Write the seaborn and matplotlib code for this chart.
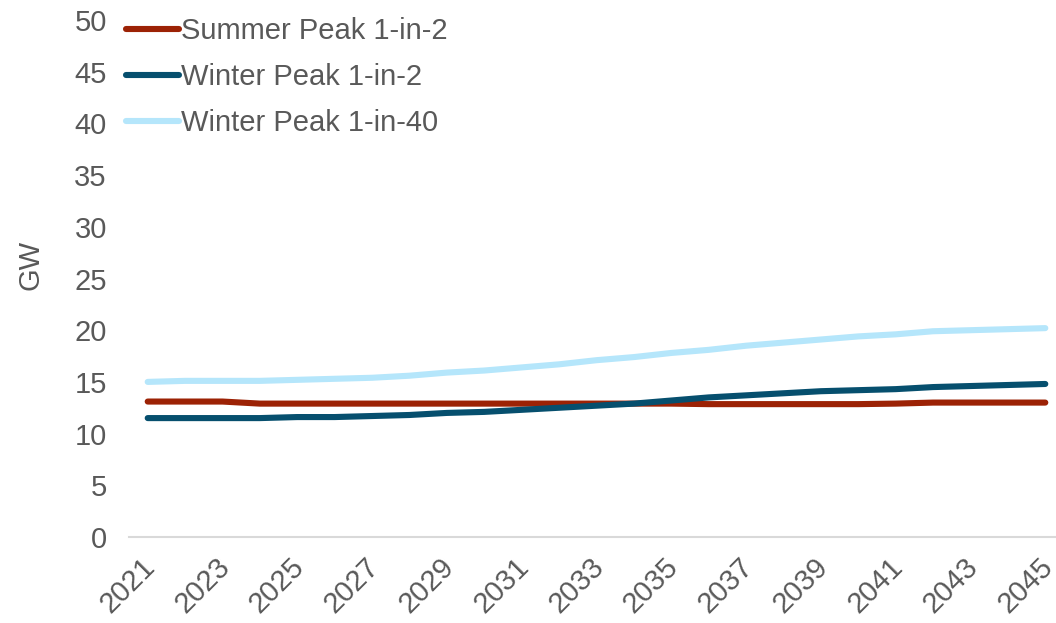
import matplotlib
matplotlib.use("Agg")
import matplotlib.pyplot as plt
import matplotlib.transforms as mtrans
import numpy as np
import pandas as pd
import seaborn as sns

# data (GW)
years = list(range(2021, 2046))
summer_1in2 = [13.1, 13.1, 13.1, 12.9, 12.9, 12.9, 12.9, 12.9, 12.9, 12.9,
               12.9, 12.9, 12.9, 12.9, 12.9, 12.85, 12.85, 12.85, 12.85, 12.85,
               12.9, 13.0, 13.0, 13.0, 13.0]
winter_1in2 = [11.5, 11.5, 11.5, 11.5, 11.6, 11.6, 11.7, 11.8, 12.0, 12.1,
               12.3, 12.5, 12.7, 12.9, 13.2, 13.5, 13.7, 13.9, 14.1, 14.2,
               14.3, 14.5, 14.6, 14.7, 14.8]
winter_1in40 = [15.0, 15.1, 15.1, 15.1, 15.2, 15.3, 15.4, 15.6, 15.9, 16.1,
                16.4, 16.7, 17.1, 17.4, 17.8, 18.1, 18.5, 18.8, 19.1, 19.4,
                19.6, 19.9, 20.0, 20.1, 20.2]
series_names = ["Summer Peak 1-in-2", "Winter Peak 1-in-2", "Winter Peak 1-in-40"]
colors = ["#9C2205", "#064F6E", "#B5E6FB"]

df = pd.DataFrame({
    "year": years * 3,
    "GW": summer_1in2 + winter_1in2 + winter_1in40,
    "series": np.repeat(series_names, len(years)),
})

sns.set_style("white")
plt.rcParams["font.family"] = ["Liberation Sans", "DejaVu Sans"]
grey = "#595959"
fs = 21
lw = 4.4

fig = plt.figure(figsize=(10.56, 6.23), dpi=100)
W, H = 1056, 623
ax = fig.add_axes([129 / W, (H - 537) / H, (1064 - 129) / W, (537 - 20) / H])

sns.lineplot(data=df, x="year", y="GW", hue="series", hue_order=series_names,
             palette=colors, linewidth=lw, ax=ax, legend=True)
for ln in ax.lines:
    ln.set_solid_capstyle("round")

ax.set_xlim(2020.5, 2045.5)
ax.set_ylim(0, 50)
ax.set_yticks(np.arange(0, 51, 5))
ax.set_xticks(years[::2])
ax.set_xticklabels([str(y) for y in years[::2]], rotation=45, ha="right",
                   rotation_mode="anchor")
ax.tick_params(axis="both", length=0, labelsize=fs, colors=grey)
ax.tick_params(axis="x", pad=11)
ax.tick_params(axis="y", pad=16)
shift = mtrans.ScaledTranslation(-7 / 100, 0, fig.dpi_scale_trans)
for lab in ax.get_xticklabels():
    lab.set_transform(lab.get_transform() + shift)
ax.set_xlabel("")
ax.set_ylabel("GW", fontsize=fs, color=grey)
ax.yaxis.set_label_coords((45 - 129) / 935, (537 - 265) / 517)

for s in ["top", "right", "left"]:
    ax.spines[s].set_visible(False)
ax.spines["bottom"].set_color("#D9D9D9")
ax.spines["bottom"].set_linewidth(1.5)

leg = ax.legend(loc="upper left", bbox_to_anchor=(126 / W, 1 - 17 / H),
                bbox_transform=fig.transFigure, frameon=False, fontsize=fs,
                handlelength=1.8, handletextpad=0.1, labelspacing=0.62,
                borderpad=0, borderaxespad=0)
for t in leg.get_texts():
    t.set_color(grey)
for h in leg.legend_handles:
    h.set_linewidth(lw)

fig.savefig("out.png", dpi=100)
